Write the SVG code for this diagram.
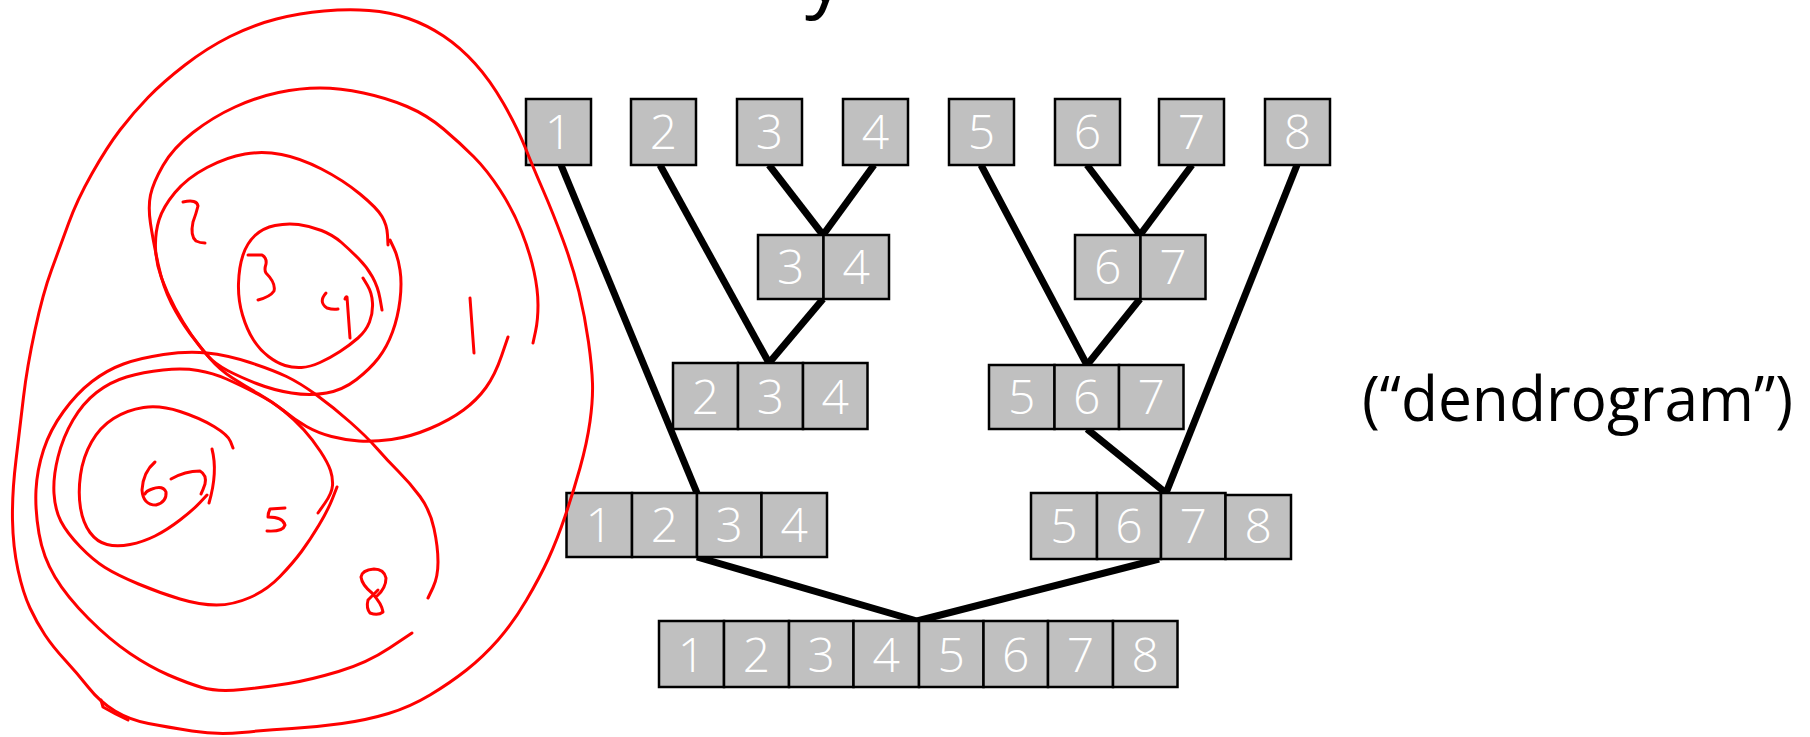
<svg xmlns="http://www.w3.org/2000/svg" width="1810" height="737" viewBox="0 0 1810 737">
<style>
.c{fill:#c0c0c0;stroke:#000;stroke-width:2.5}
.d{font-family:"Open Sans","Noto Sans","Liberation Sans",sans-serif;font-size:48px;font-weight:300;fill:#fff;text-anchor:middle}
.e{stroke:#000;stroke-width:7;fill:none}
.r{stroke:#ff0000;stroke-width:3;fill:none;stroke-linecap:round;stroke-linejoin:round}
.t{font-family:"Open Sans","Noto Sans","Liberation Sans",sans-serif;fill:#000}
</style>
<rect width="1810" height="737" fill="#fff"/>
<text class="t" x="805" y="2" font-size="80">y</text>
<g id="connectors">
<line class="e" x1="561" y1="165" x2="697" y2="493"/>
<line class="e" x1="660" y1="165" x2="769" y2="363"/>
<line class="e" x1="769" y1="165" x2="823" y2="235"/>
<line class="e" x1="874" y1="165" x2="823" y2="235"/>
<line class="e" x1="823" y1="299" x2="769" y2="363"/>
<line class="e" x1="981" y1="165" x2="1087" y2="365"/>
<line class="e" x1="1087" y1="165" x2="1140" y2="235"/>
<line class="e" x1="1192" y1="165" x2="1140" y2="235"/>
<line class="e" x1="1140" y1="299" x2="1087" y2="365"/>
<line class="e" x1="1297" y1="165" x2="1166" y2="493"/>
<line class="e" x1="1087" y1="429" x2="1166" y2="493"/>
<line class="e" x1="697" y1="557" x2="917" y2="621"/>
<line class="e" x1="1159" y1="559" x2="917" y2="621"/>
</g>
<g id="leaf1"><rect class="c" x="526" y="99" width="65" height="66"/><text class="d" x="558.5" y="149">1</text></g>
<g id="leaf2"><rect class="c" x="631" y="99" width="65" height="66"/><text class="d" x="663.5" y="149">2</text></g>
<g id="leaf3"><rect class="c" x="737" y="99" width="65" height="66"/><text class="d" x="769.5" y="149">3</text></g>
<g id="leaf4"><rect class="c" x="843" y="99" width="65" height="66"/><text class="d" x="875.5" y="149">4</text></g>
<g id="leaf5"><rect class="c" x="949" y="99" width="65" height="66"/><text class="d" x="981.5" y="149">5</text></g>
<g id="leaf6"><rect class="c" x="1055" y="99" width="65" height="66"/><text class="d" x="1087.5" y="149">6</text></g>
<g id="leaf7"><rect class="c" x="1159" y="99" width="65" height="66"/><text class="d" x="1191.5" y="149">7</text></g>
<g id="leaf8"><rect class="c" x="1265" y="99" width="65" height="66"/><text class="d" x="1297.5" y="149">8</text></g>
<g id="c34">
<rect class="c" x="758" y="235" width="65.5" height="64"/><rect class="c" x="823.5" y="235" width="65.5" height="64"/>
<text class="d" x="790.75" y="284">3</text><text class="d" x="856.25" y="284">4</text></g>
<g id="c67">
<rect class="c" x="1075" y="235" width="65.5" height="64"/><rect class="c" x="1140.5" y="235" width="65" height="64"/>
<text class="d" x="1107.75" y="284">6</text><text class="d" x="1173" y="284">7</text></g>
<g id="c234">
<rect class="c" x="673" y="363" width="65" height="66"/><rect class="c" x="738" y="363" width="65" height="66"/><rect class="c" x="803" y="363" width="64.5" height="66"/>
<text class="d" x="705.5" y="414">2</text><text class="d" x="770.5" y="414">3</text><text class="d" x="835.25" y="414">4</text></g>
<g id="c567">
<rect class="c" x="989" y="365" width="65.5" height="64"/><rect class="c" x="1054.5" y="365" width="64.5" height="64"/><rect class="c" x="1119" y="365" width="64.5" height="64"/>
<text class="d" x="1021.75" y="414">5</text><text class="d" x="1086.75" y="414">6</text><text class="d" x="1151.25" y="414">7</text></g>
<g id="c1234">
<rect class="c" x="566.5" y="493" width="65.5" height="64"/><rect class="c" x="632" y="493" width="65" height="64"/><rect class="c" x="697" y="493" width="64.5" height="64"/><rect class="c" x="761.5" y="493" width="65.5" height="64"/>
<text class="d" x="599.25" y="542">1</text><text class="d" x="664.5" y="542">2</text><text class="d" x="729.25" y="542">3</text><text class="d" x="794.25" y="542">4</text></g>
<g id="c5678">
<rect class="c" x="1031" y="493" width="66" height="66"/><rect class="c" x="1097" y="493" width="64" height="66"/><rect class="c" x="1161" y="493" width="64.5" height="66"/><rect class="c" x="1225.5" y="495" width="65.5" height="64"/>
<text class="d" x="1064" y="543">5</text><text class="d" x="1129" y="543">6</text><text class="d" x="1193.25" y="543">7</text><text class="d" x="1258.25" y="543">8</text></g>
<g id="c12345678">
<rect class="c" x="659" y="621" width="65" height="66"/><rect class="c" x="724" y="621" width="65" height="66"/><rect class="c" x="789" y="621" width="64.5" height="66"/><rect class="c" x="853.5" y="621" width="65.5" height="66"/><rect class="c" x="919" y="621" width="64.5" height="66"/><rect class="c" x="983.5" y="621" width="64.5" height="66"/><rect class="c" x="1048" y="621" width="65" height="66"/><rect class="c" x="1113" y="621" width="64.5" height="66"/>
<text class="d" x="691.5" y="672">1</text><text class="d" x="756.5" y="672">2</text><text class="d" x="821.25" y="672">3</text><text class="d" x="886.25" y="672">4</text><text class="d" x="951.25" y="672">5</text><text class="d" x="1015.75" y="672">6</text><text class="d" x="1080.5" y="672">7</text><text class="d" x="1145.25" y="672">8</text></g>
<g id="label"><text class="t" x="1362" y="421" font-size="62" textLength="431" lengthAdjust="spacingAndGlyphs">(“dendrogram”)</text></g>
<g id="sketch">
<path class="r" d="M324,11 Q348,9 369,10.5 Q390,12 408.5,18.5 Q427,25 443.5,36 Q460,47 475,63.5 Q490,80 503.5,103.5 Q517,127 525,147 Q533,167 543,190 Q553,213 563,240 Q573,267 579,292 Q585,317 588.5,342 Q592,367 592.5,383.5 Q593,400 590,421.5 Q587,443 580,468 Q573,493 565,516.5 Q557,540 548.5,558.5 Q540,577 526.5,600 Q513,623 498,640 Q483,657 466.5,670 Q450,683 430,695 Q410,707 388.5,713.5 Q367,720 342,723.5 Q317,727 292,728.5 Q267,730 242,732.5 Q217,735 192,731 Q167,727 148.5,723.5 Q130,720 115,711 Q100,702 88.5,687.5 Q77,673 65,660 Q53,647 45,635 Q37,623 30,608 Q23,593 18,570 Q13,547 12.5,520 Q12,493 16,460 Q20,427 23.5,397 Q27,367 35,330 Q43,293 51.5,270 Q60,247 68.5,223.5 Q77,200 92,173.5 Q107,147 120,130 Q133,113 148,97.5 Q163,82 185,65 Q207,48 230,36.5 Q253,25 276.5,19 Q300,13 324,11 Z"/>
<path class="r" d="M101,700 L103,707 Q115,714 128,720"/>
<path class="r" d="M533,343 L535.5,331.5 Q538,320 538,305 Q538,290 534,271.5 Q530,253 521.5,231.5 Q513,210 500,190 Q487,170 473.5,156.5 Q460,143 443.5,129 Q427,115 407,106.5 Q387,98 363.5,93 Q340,88 320,88 Q300,88 278.5,92.5 Q257,97 235,107 Q213,117 193,132.5 Q173,148 163,165.5 Q153,183 150.5,195 Q148,207 150.5,223.5 Q153,240 158,263.5 Q163,287 171.5,303.5 Q180,320 190,333.5 Q200,347 210,358.5 Q220,370 232.5,378 Q245,386 259,394 Q273,402 284,411 Q295,420 306.5,426.5 Q318,433 331.5,436.5 Q345,440 359,441 Q373,442 391.5,439.5 Q410,437 430,428.5 Q450,420 463.5,410 Q477,400 486,387.5 Q495,375 501.5,356 L508,337"/>
<path class="r" d="M388,245 L387.5,235 Q387,225 382,216.5 Q377,208 360,194 Q343,180 321.5,169 Q300,158 281.5,154.5 Q263,151 245,154 Q227,157 207,167.5 Q187,178 175,192.5 Q163,207 159,220 Q155,233 155.5,248 Q156,263 161.5,278 Q167,293 175,308 Q183,323 191.5,335 Q200,347 207.5,355.5 Q215,364 227.5,370.5 Q240,377 256.5,383.5 Q273,390 291.5,393 Q310,396 326.5,393 Q343,390 356.5,379.5 Q370,369 378.5,358 Q387,347 392.5,332 Q398,317 400,300 Q402,283 400,270 Q398,257 394,248.5 L390,240"/>
<path class="r" d="M382,310 L380,298.5 Q378,287 372.5,277 Q367,267 358.5,258.5 Q350,250 341.5,242.5 Q333,235 321.5,230.5 Q310,226 298.5,224.5 Q287,223 275,225.5 Q263,228 255,235.5 Q247,243 243,255 Q239,267 238.5,283.5 Q238,300 242.5,315 Q247,330 253.5,340 Q260,350 268.5,356.5 Q277,363 285,365.5 Q293,368 301.5,367.5 Q310,367 320,362.5 Q330,358 340,351.5 Q350,345 358,338 Q366,331 369.5,322 Q373,313 372.5,303 Q372,293 367.5,285.5 L363,278"/>
<path class="r" d="M428,598 L433,587.5 Q438,577 438,562 Q438,547 434,528.5 Q430,510 420,496.5 Q410,483 398.5,471.5 Q387,460 377,448.5 Q367,437 350,422 Q333,407 316.5,395 Q300,383 286.5,376.5 Q273,370 250,362.5 Q227,355 207,353 Q187,351 163.5,354.5 Q140,358 123.5,364 Q107,370 92,381.5 Q77,393 63.5,411.5 Q50,430 43.5,450 Q37,470 36,490 Q35,510 39,533.5 Q43,557 55,577 Q67,597 88.5,618.5 Q110,640 130,653.5 Q150,667 168.5,675 Q187,683 202,687.5 Q217,692 242,689.5 Q267,687 288.5,683.5 Q310,680 338.5,671.5 Q367,663 389.5,648 L412,633"/>
<path class="r" d="M318,513 L325,503 Q332,493 332.5,485.5 Q333,478 330.5,470.5 Q328,463 320.5,451.5 Q313,440 304,430 Q295,420 284,411 Q273,402 256.5,393.5 Q240,385 226.5,379 Q213,373 198,370.5 Q183,368 163,370 Q143,372 126.5,377 Q110,382 96.5,392.5 Q83,403 73,420 Q63,437 58,457 Q53,477 54,493.5 Q55,510 61,521.5 Q67,533 80,546.5 Q93,560 105,567.5 Q117,575 138.5,584 Q160,593 180,599 Q200,605 216.5,605 Q233,605 250,597.5 Q267,590 280,576.5 Q293,563 301.5,551.5 Q310,540 319,525 Q328,510 332.5,498.5 L337,487"/>
<path class="r" d="M233,448 L230.5,441.5 Q228,435 214,426.5 Q200,418 180,411.5 Q160,405 143.5,407.5 Q127,410 113.5,418.5 Q100,427 91.5,442 Q83,457 80.5,475 Q78,493 80.5,508 Q83,523 90,532.5 Q97,542 107,544.5 Q117,547 130,544.5 Q143,542 155,536 Q167,530 180,520 Q193,510 200,502.5 L207,495"/>
<path class="r" d="M212,449 Q218,472 209,503"/>
<path class="r" d="M155,462 Q143,472 142,490 Q143,505 156,505 Q167,502 166,492 Q163,485 152,489 Q146,491 145,494"/>
<path class="r" d="M171,479 Q185,471 200,471 Q207,475 205,484 Q203,490 201,494"/>
<path class="r" d="M183,202 Q197,199 198,206 Q196,214 193,222 Q190,236 196,241 Q200,243 205,243"/>
<path class="r" d="M248,255 L262,255 Q267,258 266,264 Q264,270 266,273 Q276,283 274,291 Q270,297 258,300"/>
<path class="r" d="M326,293 Q318,302 327,308 Q333,310 338,309"/>
<path class="r" d="M345,299 Q346,296 347,297 L350,338"/>
<path class="r" d="M470,298 L474,353"/>
<path class="r" d="M285,508 L270,509 Q268,513 268,517 Q283,517 285,525 Q283,532 267,531"/>
<path class="r" d="M377,596 Q386,588 386,578 Q384,569 374,569 Q362,570 361,577 Q362,585 372,593 Q382,604 383,612 Q378,616 370,613 Q366,608 368,600 L378,590"/>
</g>
</svg>
